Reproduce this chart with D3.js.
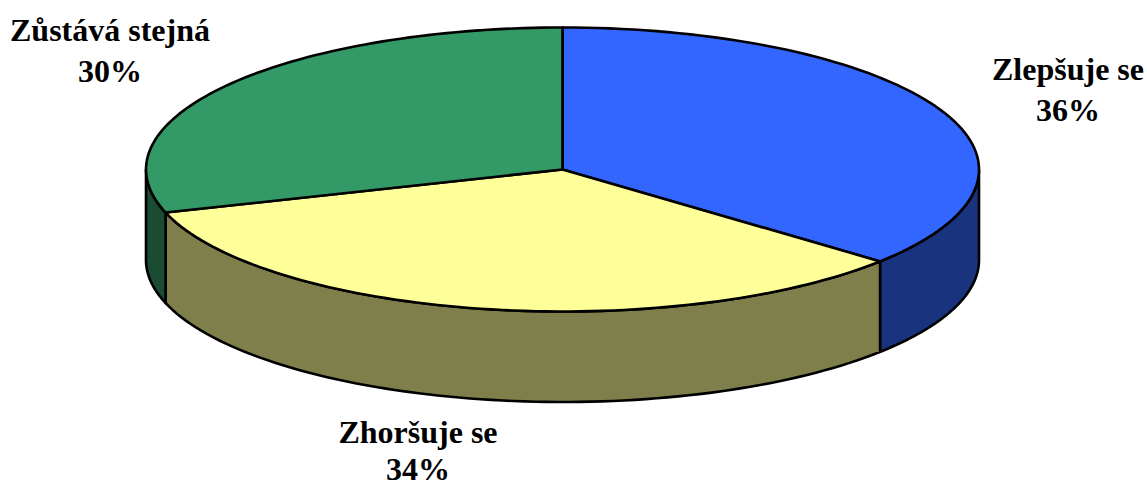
<!DOCTYPE html>
<html><head><meta charset="utf-8">
<script src="https://cdn.jsdelivr.net/npm/d3@7"></script>
<style>html,body{margin:0;padding:0;background:#fff}svg{display:block}</style></head>
<body><script>
const categories = ["Zlepšuje se","Zhoršuje se","Zůstává stejná"];
const values = [36.2,33.9,29.9];
const labels = ["36%","34%","30%"];
const topColors = ["#3366FF","#FFFF99","#339966"];
const sideColors = ["#1A337F","#7F7F4C","#1A4C33"];
const labelPos = [[1068,80,121],[418,443,480],[110,41,82]];

const W=1147,H=481,cx=562.5,cy=169.5,rx=416.5,ry=142,depth=90.5;
const svg=d3.select("body").append("svg").attr("width",W).attr("height",H);
const pie=d3.pie().sort(null).value(d=>d).startAngle(0).endAngle(2*Math.PI);
const arcs=pie(values);
const px=a=>cx+rx*Math.sin(a), py=a=>cy-ry*Math.cos(a);
function ell(a0,a1,dy,rev){
  const n=80,pts=d3.range(n+1).map(i=>{const a=a0+(a1-a0)*i/n;return [px(a),py(a)+dy];});
  return rev?pts.reverse():pts;
}
const line=d3.line();
const g=svg.append("g");
arcs.forEach((d,i)=>{
  const a0=Math.max(d.startAngle,Math.PI/2), a1=Math.min(d.endAngle,3*Math.PI/2);
  if(a1<=a0) return;
  const pts=ell(a0,a1,0).concat(ell(a0,a1,depth,true));
  g.append("path").attr("d",line(pts)+"Z").attr("fill",sideColors[i]).attr("stroke","#000").attr("stroke-width",2.6).attr("stroke-linejoin","round");
});
arcs.forEach((d,i)=>{
  const pts=[[cx,cy]].concat(ell(d.startAngle,d.endAngle,0));
  g.append("path").attr("d",line(pts)+"Z").attr("fill",topColors[i]).attr("stroke","#000").attr("stroke-width",2.6).attr("stroke-linejoin","round");
});
const t=svg.append("g").attr("font-family","Liberation Serif").attr("font-weight","bold").attr("font-size",32).attr("text-anchor","middle").attr("fill","#000");
categories.forEach((c,i)=>{
  t.append("text").attr("x",labelPos[i][0]).attr("y",labelPos[i][1]).text(c);
  t.append("text").attr("x",labelPos[i][0]).attr("y",labelPos[i][2]).text(labels[i]);
});
</script></body></html>
